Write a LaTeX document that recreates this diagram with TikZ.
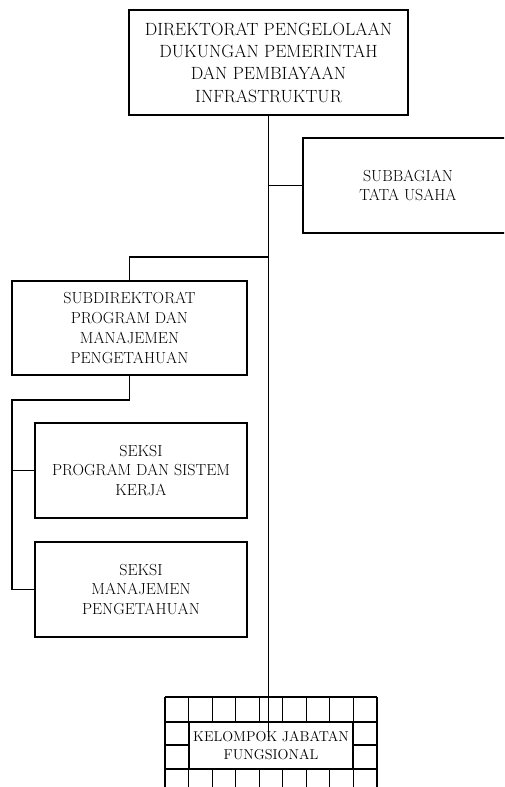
\documentclass[tikz,border=0pt]{standalone}
\begin{document}
\begin{tikzpicture}[x=1pt,y=-1pt,
  ln/.style={line width=1.4pt},
  box/.style={draw, ln, fill=white, align=center, inner sep=0pt},
  bigtxt/.style={font=\fontsize{17.7}{22.3}\selectfont},
  midtxt/.style={font=\fontsize{16}{19.7}\selectfont},
  smalltxt/.style={font=\fontsize{14.3}{18}\selectfont},
  grid/.style={line width=1.2pt}]
\useasboundingbox (0,0) rectangle (504,787);
\clip (0,0) rectangle (504,787);
% boxes
\node[box, bigtxt, minimum width=279pt, minimum height=105pt] (top) at (268.5,62.5)
  {DIREKTORAT PENGELOLAAN\\DUKUNGAN PEMERINTAH\\DAN PEMBIAYAAN\\INFRASTRUKTUR};
\node[box, midtxt, minimum width=210pt, minimum height=95pt] (tu) at (408,185.5)
  {SUBBAGIAN\\TATA USAHA};
\node[box, midtxt, minimum width=235pt, minimum height=94pt] (sd) at (129.5,328)
  {SUBDIREKTORAT\\PROGRAM DAN\\MANAJEMEN\\PENGETAHUAN};
\node[box, midtxt, minimum width=212pt, minimum height=95pt] (s1) at (141,470.5)
  {SEKSI\\PROGRAM DAN SISTEM\\KERJA};
\node[box, midtxt, minimum width=212pt, minimum height=95pt] (s2) at (141,589.5)
  {SEKSI\\MANAJEMEN\\PENGETAHUAN};
% grid behind kelompok
\foreach \k in {0,...,9} {
  \draw[grid] ({165+\k*23.55},697) -- ({165+\k*23.55},800);
}
\foreach \yy in {697,722,745,769} {
  \draw[grid] (165,\yy) -- (377,\yy);
}
\node[box, smalltxt, line width=1.2pt, minimum width=164pt, minimum height=47pt] (kj) at (271,745.5)
  {KELOMPOK JABATAN\\FUNGSIONAL};
% connectors
\coordinate (kend) at (268.5,737);
\coordinate (j1) at (268.5,257);
\coordinate (j2) at (129.5,400);
\coordinate (j3) at (12,400);
\draw[ln] (top.south) -- (kend);
\draw[ln] (top.south |- tu.west) -- (tu.west);
\draw[ln] (j1) -- (j1 -| sd.north) -- (sd.north);
\draw[ln] (sd.south) -- (j2) -- (j3) -- (j3 |- s2.west) -- (s2.west);
\draw[ln] (j3 |- s1.west) -- (s1.west);
\end{tikzpicture}
\end{document}
